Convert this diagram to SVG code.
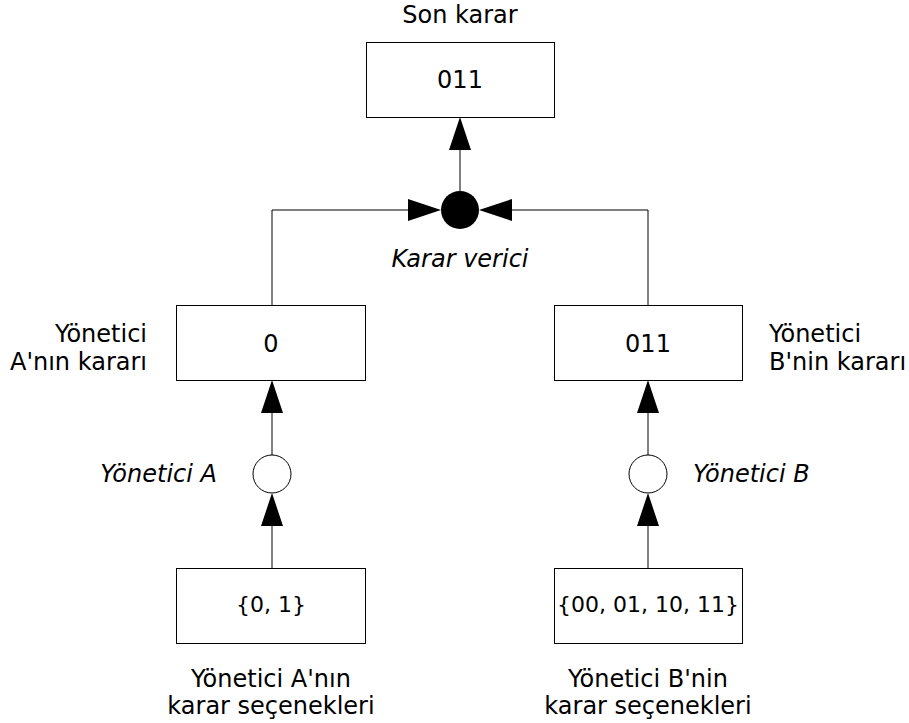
<svg xmlns="http://www.w3.org/2000/svg" width="909" height="723" viewBox="0 0 909 723">
<style>
.box{fill:#fff;stroke:#000;stroke-width:1}
.t{font-family:"DejaVu Sans",Verdana,sans-serif;font-size:24px;fill:#000}
.it{font-style:italic}
.m{text-anchor:middle}
.e{text-anchor:end}
.s{font-size:22px}
.ln{fill:none;stroke:#000;stroke-width:1}
.ah{fill:#000;stroke:none}
</style>
<rect width="909" height="723" fill="#fff"/>
<g id="connectors">
<path class="ln" d="M460 191V130"/>
<polygon class="ah" points="460,117 449,150 471,150"/>
<path class="ln" d="M272 305V210H420"/>
<polygon class="ah" points="441,210 408,199 408,221"/>
<path class="ln" d="M648 305V210H500"/>
<polygon class="ah" points="479,210 512,199 512,221"/>
<path class="ln" d="M272 455V395"/>
<polygon class="ah" points="272,380 261,413 283,413"/>
<path class="ln" d="M272 568V510"/>
<polygon class="ah" points="272,493 261,526 283,526"/>
<path class="ln" d="M648 455V395"/>
<polygon class="ah" points="648,380 637,413 659,413"/>
<path class="ln" d="M648 568V510"/>
<polygon class="ah" points="648,493 637,526 659,526"/>
</g>
<g id="final">
<text class="t m" x="460" y="23">Son karar</text>
<rect class="box" x="366.5" y="42.5" width="188" height="75"/>
<text class="t m" x="460" y="88">011</text>
</g>
<g id="decider">
<circle cx="460" cy="210" r="19" fill="#000"/>
<text class="t it m" x="460" y="267">Karar verici</text>
</g>
<g id="decisionA">
<rect class="box" x="176.5" y="305.5" width="189" height="75"/>
<text class="t m" x="271" y="352">0</text>
<text class="t e" x="147" y="342">Yönetici</text>
<text class="t e" x="147" y="370">A'nın kararı</text>
</g>
<g id="decisionB">
<rect class="box" x="554.5" y="305.5" width="188" height="75"/>
<text class="t m" x="648" y="352">011</text>
<text class="t" x="769" y="342">Yönetici</text>
<text class="t" x="769" y="370">B'nin kararı</text>
</g>
<g id="managerA">
<circle cx="272" cy="474" r="19" fill="#fff" stroke="#000" stroke-width="1"/>
<text class="t it e" x="217" y="482">Yönetici A</text>
</g>
<g id="managerB">
<circle cx="648" cy="474" r="19" fill="#fff" stroke="#000" stroke-width="1"/>
<text class="t it" x="693" y="482">Yönetici B</text>
</g>
<g id="optionsA">
<rect class="box" x="176.5" y="568.5" width="189" height="75"/>
<text class="t s m" x="271" y="612">{0, 1}</text>
<text class="t m" x="271" y="687">Yönetici A'nın</text>
<text class="t m" x="271" y="714">karar seçenekleri</text>
</g>
<g id="optionsB">
<rect class="box" x="554.5" y="568.5" width="188" height="75"/>
<text class="t s m" x="648" y="612">{00, 01, 10, 11}</text>
<text class="t m" x="648" y="687">Yönetici B'nin</text>
<text class="t m" x="648" y="714">karar seçenekleri</text>
</g>
</svg>
